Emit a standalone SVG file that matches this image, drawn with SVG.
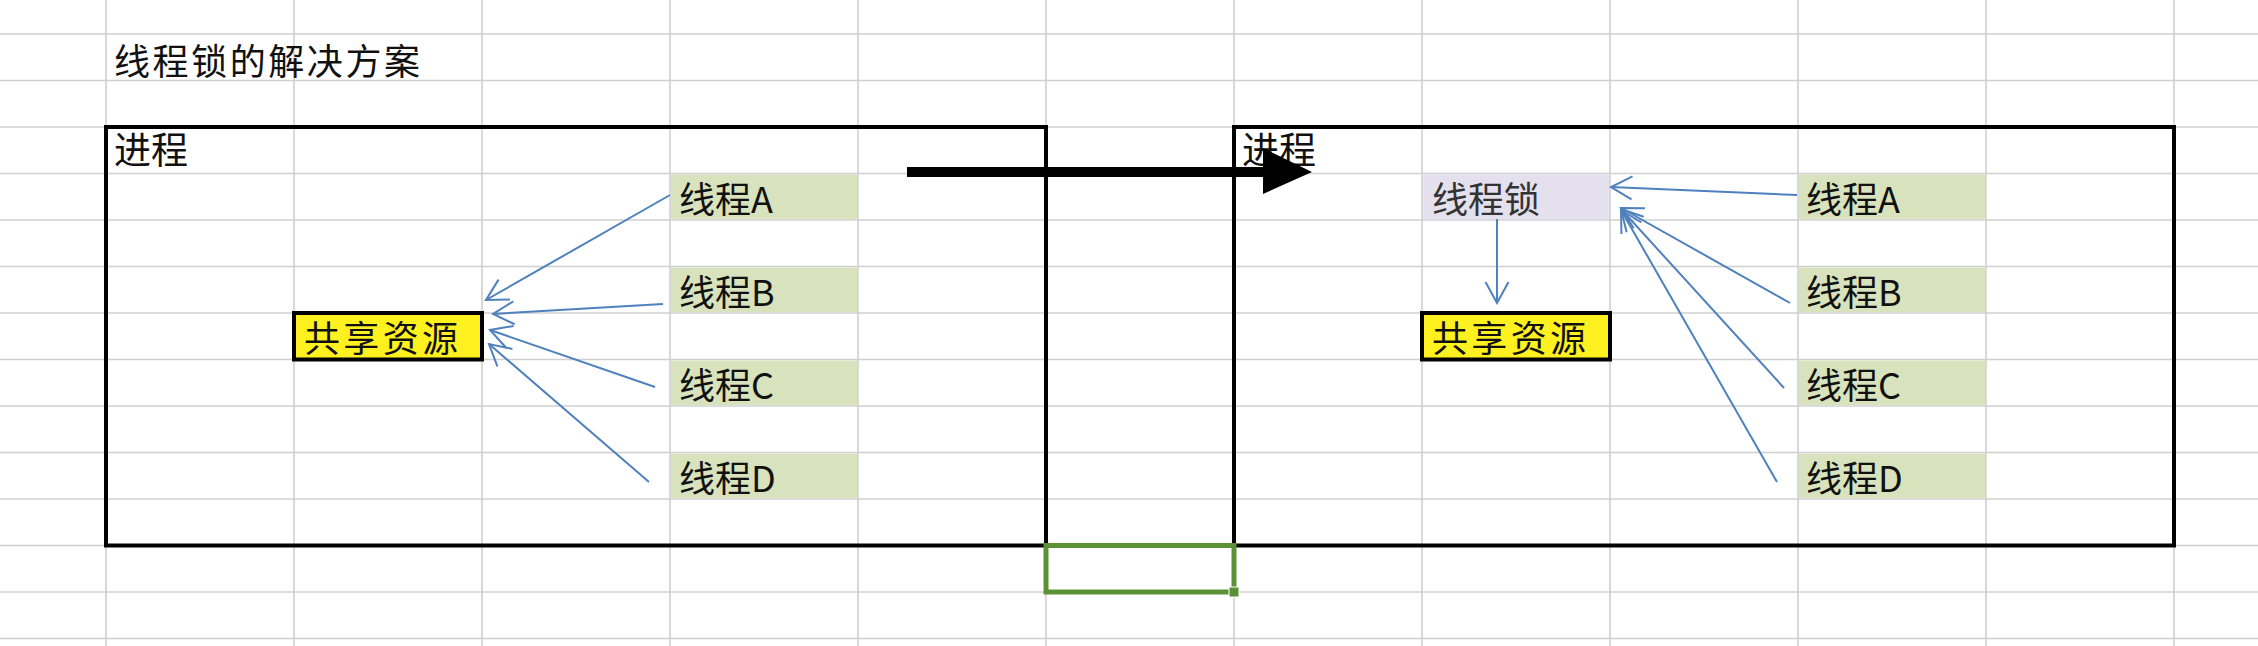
<svg xmlns="http://www.w3.org/2000/svg" width="2258" height="646" viewBox="0 0 2258 646">
<style>
.grid line{stroke:#d0d0d0;stroke-width:1.6}
.t{font-family:"Noto Sans CJK SC","Noto Sans",sans-serif;font-size:36px;fill:#111}
.thread{fill:#d8e3bd}
.lock{fill:#e4e0ed}
.res{fill:#fff01f;stroke:#000;stroke-width:4}
.frame{fill:none;stroke:#000;stroke-width:4}
.conn{stroke:#4f81bd;stroke-width:2;fill:none;marker-end:url(#ah)}
</style>
<defs>
<marker id="ah" markerUnits="userSpaceOnUse" viewBox="-24 -14 26 28" markerWidth="26" markerHeight="28" refX="0" refY="0" orient="auto">
<path d="M-21,-11.5 L0,0 L-21,11.5" fill="none" stroke="#4f81bd" stroke-width="2"/>
</marker>
</defs>
<rect width="2258" height="646" fill="#fff"/>
<g class="grid" id="grid">
<line x1="0" y1="34" x2="2258" y2="34"/>
<line x1="0" y1="80.5" x2="2258" y2="80.5"/>
<line x1="0" y1="127" x2="2258" y2="127"/>
<line x1="0" y1="173.5" x2="2258" y2="173.5"/>
<line x1="0" y1="220" x2="2258" y2="220"/>
<line x1="0" y1="266.5" x2="2258" y2="266.5"/>
<line x1="0" y1="313" x2="2258" y2="313"/>
<line x1="0" y1="359.5" x2="2258" y2="359.5"/>
<line x1="0" y1="406" x2="2258" y2="406"/>
<line x1="0" y1="452.5" x2="2258" y2="452.5"/>
<line x1="0" y1="499" x2="2258" y2="499"/>
<line x1="0" y1="545.5" x2="2258" y2="545.5"/>
<line x1="0" y1="592" x2="2258" y2="592"/>
<line x1="0" y1="638.5" x2="2258" y2="638.5"/>
<line x1="106" y1="0" x2="106" y2="646"/>
<line x1="294" y1="0" x2="294" y2="646"/>
<line x1="482" y1="0" x2="482" y2="646"/>
<line x1="670" y1="0" x2="670" y2="646"/>
<line x1="858" y1="0" x2="858" y2="646"/>
<line x1="1046" y1="0" x2="1046" y2="646"/>
<line x1="1234" y1="0" x2="1234" y2="646"/>
<line x1="1422" y1="0" x2="1422" y2="646"/>
<line x1="1610" y1="0" x2="1610" y2="646"/>
<line x1="1798" y1="0" x2="1798" y2="646"/>
<line x1="1986" y1="0" x2="1986" y2="646"/>
<line x1="2174" y1="0" x2="2174" y2="646"/>
</g>
<text id="title" class="t" x="114" y="75" textLength="306">线程锁的解决方案</text>
<g id="process-left">
<rect class="frame" x="106" y="127" width="940" height="418.5"/>
<text class="t" x="114" y="164" style="font-size:37px">进程</text>
</g>
<g id="process-right">
<rect class="frame" x="1234" y="127" width="940" height="418.5"/>
<text class="t" x="1242" y="164" style="font-size:37px">进程</text>
</g>
<g id="res-left"><rect class="res" x="294" y="313" width="188" height="46.5"/><text class="t" x="304" y="352" textLength="154">共享资源</text></g>
<g id="threadA-left"><rect class="thread" x="671" y="174.5" width="186" height="44.5"/><text class="t" x="679" y="213">线程A</text></g>
<g id="threadB-left"><rect class="thread" x="671" y="267.5" width="186" height="44.5"/><text class="t" x="679" y="306">线程B</text></g>
<g id="threadC-left"><rect class="thread" x="671" y="360.5" width="186" height="44.5"/><text class="t" x="679" y="399">线程C</text></g>
<g id="threadD-left"><rect class="thread" x="671" y="453.5" width="186" height="44.5"/><text class="t" x="679" y="492">线程D</text></g>
<g id="lock"><rect class="lock" x="1423" y="174.5" width="186" height="44.5"/><text class="t" x="1432" y="213" style="fill:#333">线程锁</text></g>
<g id="res-right"><rect class="res" x="1422" y="313" width="188" height="46.5"/><text class="t" x="1432" y="352" textLength="154">共享资源</text></g>
<g id="threadA-right"><rect class="thread" x="1799" y="174.5" width="186" height="44.5"/><text class="t" x="1806" y="213">线程A</text></g>
<g id="threadB-right"><rect class="thread" x="1799" y="267.5" width="186" height="44.5"/><text class="t" x="1806" y="306">线程B</text></g>
<g id="threadC-right"><rect class="thread" x="1799" y="360.5" width="186" height="44.5"/><text class="t" x="1806" y="399">线程C</text></g>
<g id="threadD-right"><rect class="thread" x="1799" y="453.5" width="186" height="44.5"/><text class="t" x="1806" y="492">线程D</text></g>
<g id="connectors">
<line class="conn" x1="670" y1="195" x2="486" y2="300"/>
<line class="conn" x1="663" y1="304" x2="493" y2="314"/>
<line class="conn" x1="655" y1="387" x2="490" y2="330"/>
<line class="conn" x1="649" y1="482" x2="489" y2="344"/>
<line class="conn" x1="1797" y1="195" x2="1611" y2="187"/>
<line class="conn" x1="1790" y1="303" x2="1621" y2="208"/>
<line class="conn" x1="1784" y1="388" x2="1621" y2="209"/>
<line class="conn" x1="1777" y1="482" x2="1621" y2="210"/>
<line class="conn" x1="1497" y1="219" x2="1497" y2="303"/>
<g id="big-arrow">
<rect x="907" y="167" width="358" height="10" fill="#000"/>
<polygon points="1263,148 1312,172 1263,194" fill="#000"/>
</g>
</g>
<g id="selection">
<rect x="1046" y="545.5" width="188" height="46.5" fill="none" stroke="#5b9034" stroke-width="5"/>
<rect x="1229" y="587" width="10" height="10" fill="#5b9034" stroke="#fff" stroke-width="1"/>
</g>
</svg>
